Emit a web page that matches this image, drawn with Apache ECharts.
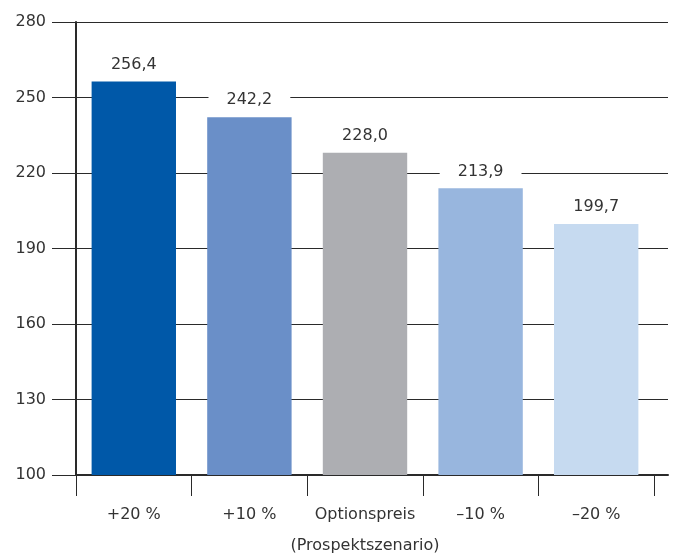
<!DOCTYPE html>
<html>
<head>
<meta charset="utf-8">
<script src="https://cdn.jsdelivr.net/npm/echarts@6/dist/echarts.min.js"></script>
<style>
  html, body { margin: 0; padding: 0; background: #fff; }
  #chart { width: 673px; height: 557px; }
</style>
</head>
<body>
<div id="chart"></div>
<script>
// Scenario categories and option values
const categories = ['+20 %', '+10 %', 'Optionspreis', '–10 %', '–20 %'];
const values = [256.4, 242.2, 228.0, 213.9, 199.7];
const barColors = ['#0058a8', '#6a8fc8', '#adaeb2', '#98b6de', '#c6daf0'];
const axisTitle = '(Prospektszenario)';

const FONT = 'DejaVu Sans';
const TEXT = '#333333';
const LINE = '#2a2a2a';

const chart = echarts.init(document.getElementById('chart'), null, { renderer: 'canvas' });

const fmt = v => v.toFixed(1).replace('.', ',');

chart.setOption({
  animation: false,
  grid: [
    // bars
    { left: 76, right: 19, top: 22, bottom: 82, outerBoundsMode: 'none', containLabel: false },
    // grid lines running on past the last category
    { left: 654, right: 5, top: 22, bottom: 82, outerBoundsMode: 'none', containLabel: false }
  ],
  xAxis: [
    {
      type: 'category', gridIndex: 0, data: categories,
      axisLine: { show: true, lineStyle: { color: LINE, width: 2 } },
      axisTick: { show: true, interval: 0, length: 21, lineStyle: { color: LINE, width: 1 } },
      axisLabel: { interval: 0, margin: 32, color: TEXT, fontFamily: FONT, fontSize: 16 },
      splitLine: { show: false },
      name: axisTitle, nameLocation: 'middle', nameGap: 63,
      nameTextStyle: { color: TEXT, fontFamily: FONT, fontSize: 16 }
    },
    {
      type: 'value', gridIndex: 1, min: 0, max: 1,
      axisLine: { show: true, lineStyle: { color: LINE, width: 2 } },
      axisTick: { show: false }, axisLabel: { show: false }, splitLine: { show: false }
    }
  ],
  yAxis: [
    {
      type: 'value', gridIndex: 0, min: 100, max: 280, interval: 30,
      axisLine: { show: true, lineStyle: { color: LINE, width: 2 } },
      axisTick: { show: true, length: 24, lineStyle: { color: LINE, width: 1 } },
      axisLabel: { margin: 30, color: TEXT, fontFamily: FONT, fontSize: 16 },
      splitLine: { show: true, lineStyle: { color: LINE, width: 1 } }
    },
    {
      type: 'value', gridIndex: 1, min: 100, max: 280, interval: 30,
      axisLine: { show: false }, axisTick: { show: false }, axisLabel: { show: false },
      splitLine: { show: true, lineStyle: { color: LINE, width: 1 } }
    }
  ],
  series: [
    {
      type: 'bar', xAxisIndex: 0, yAxisIndex: 0,
      barWidth: '73%',
      data: values.map((v, i) => ({ value: v, itemStyle: { color: barColors[i] } })),
      label: {
        show: true, position: 'top', distance: 9,
        formatter: p => fmt(p.value),
        color: TEXT, fontFamily: FONT, fontSize: 16, lineHeight: 16,
        backgroundColor: '#ffffff', padding: [0, 18]
      }
    }
  ]
});
</script>
</body>
</html>
